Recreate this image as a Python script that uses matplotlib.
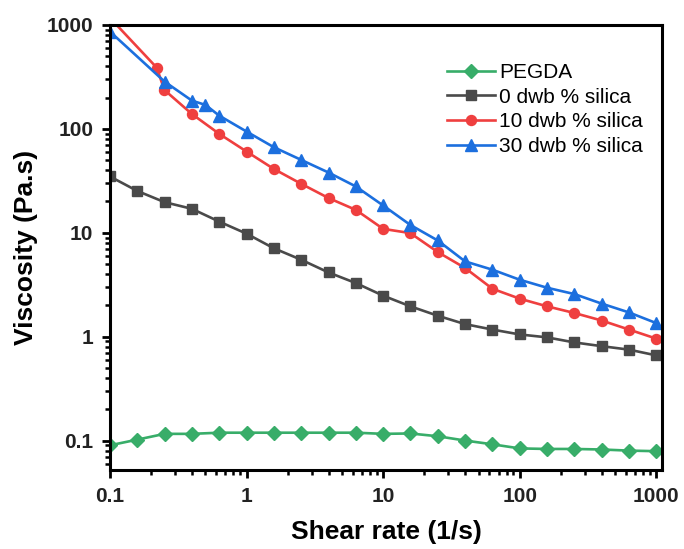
import matplotlib
matplotlib.use("Agg")
import matplotlib.pyplot as plt
from matplotlib.ticker import LogLocator, NullFormatter

plt.rcParams['font.family'] = ['Liberation Sans', 'DejaVu Sans']

# shear rates (1/s)
x_std = [0.1, 0.158, 0.251, 0.398, 0.631, 1, 1.58, 2.51, 3.98, 6.31, 10,
         15.8, 25.1, 39.8, 63.1, 100, 158, 251, 398, 631, 1000]
x_red = [0.1, 0.22, 0.25, 0.398, 0.631, 1, 1.58, 2.51, 3.98, 6.31, 10,
         15.8, 25.1, 39.8, 63.1, 100, 158, 251, 398, 631, 1000]
x_blue = [0.1, 0.251, 0.398, 0.5, 0.631, 1, 1.58, 2.51, 3.98, 6.31, 10,
          15.8, 25.1, 39.8, 63.1, 100, 158, 251, 398, 631, 1000]

pegda = [0.090, 0.102, 0.116, 0.116, 0.119, 0.119, 0.119, 0.119, 0.119, 0.119, 0.116,
         0.117, 0.110, 0.100, 0.092, 0.084, 0.083, 0.083, 0.082, 0.080, 0.079]
silica0 = [34.8, 25.3, 19.7, 17.0, 12.8, 9.8, 7.1, 5.5, 4.15, 3.28, 2.48,
           1.96, 1.59, 1.32, 1.17, 1.05, 0.985, 0.88, 0.81, 0.75, 0.66]
silica10 = [1170, 388, 237, 139, 89.5, 60.5, 41.2, 29.6, 21.6, 16.6, 10.9,
            9.93, 6.52, 4.58, 2.89, 2.32, 1.96, 1.69, 1.43, 1.17, 0.957]
silica30 = [863, 285, 187, 170, 134, 94.2, 66.7, 50.3, 38.0, 27.9, 18.3,
            11.9, 8.43, 5.30, 4.41, 3.53, 2.96, 2.57, 2.08, 1.71, 1.35]

labels = ["PEGDA", "0 dwb % silica", "10 dwb % silica", "30 dwb % silica"]
colors = ["#38ad69", "#4a4a4a", "#ef3f3f", "#1c6fde"]

fig = plt.figure(figsize=(6.84, 5.49), dpi=100)
ax = fig.add_axes([0.1608, 0.1438, 0.8070, 0.8107])

lw = 1.9
ax.plot(x_std, pegda, color=colors[0], marker='D', ms=7, lw=lw, label=labels[0])
ax.plot(x_std, silica0, color=colors[1], marker='s', ms=6.8, lw=lw, label=labels[1])
ax.plot(x_red, silica10, color=colors[2], marker='o', ms=7.2, lw=lw, label=labels[2])
ax.plot(x_blue, silica30, color=colors[3], marker='^', ms=8.5, lw=lw, label=labels[3])

ax.set_xscale('log')
ax.set_yscale('log')
ax.set_xlim(0.1, 1100)
ax.set_ylim(0.052, 1000)

ax.set_xticks([0.1, 1, 10, 100, 1000])
ax.set_xticklabels(["0.1", "1", "10", "100", "1000"])
ax.set_yticks([0.1, 1, 10, 100, 1000])
ax.set_yticklabels(["0.1", "1", "10", "100", "1000"])
ax.xaxis.set_minor_locator(LogLocator(base=10, subs=range(2, 10), numticks=20))
ax.yaxis.set_minor_locator(LogLocator(base=10, subs=range(2, 10), numticks=20))
ax.xaxis.set_minor_formatter(NullFormatter())
ax.yaxis.set_minor_formatter(NullFormatter())

for s in ax.spines.values():
    s.set_linewidth(2.2)
ax.tick_params(which='major', direction='out', length=6, width=2, labelsize=15, pad=6)
ax.tick_params(which='minor', direction='out', length=3.5, width=1.8)
for t in ax.get_xticklabels() + ax.get_yticklabels():
    t.set_fontweight('bold')
    t.set_color('#222222')

ax.set_xlabel("Shear rate (1/s)", fontsize=19, fontweight='bold', labelpad=10)
ax.set_ylabel("Viscosity (Pa.s)", fontsize=19, fontweight='bold', labelpad=6)

leg = ax.legend(loc='upper left', bbox_to_anchor=(0.61, 0.915), frameon=False,
                fontsize=15, handlelength=2.3, labelspacing=0.28,
                handletextpad=0.2, borderpad=0, borderaxespad=0)

fig.savefig("out.png", dpi=100)
